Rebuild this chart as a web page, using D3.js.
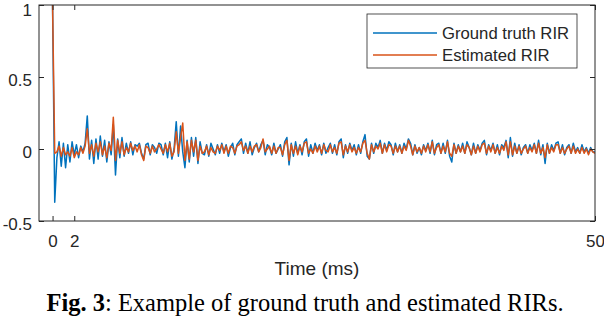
<!DOCTYPE html>
<html>
<head>
<meta charset="utf-8">
<script src="https://cdn.jsdelivr.net/npm/d3@7"></script>
<style>
  body { margin: 0; background: #fff; }
  text { font-family: "Liberation Sans", Arial, sans-serif; fill: #262626; }
  .caption { font-family: "Liberation Serif", "Times New Roman", serif; fill: #000; }
</style>
</head>
<body>
<div id="chart"></div>
<script>
// sample step of the traces (ms)
var stepMs = 0.2;

var xTicks = [0, 2, 50];
var yTicks = [-0.5, 0, 0.5, 1];
var yTickLabels = ["-0.5", "0", "0.5", "1"];
var seriesNames = ["Ground truth RIR", "Estimated RIR"];

// ground truth RIR, every 0.2 ms
var groundTruth = [
  1.0, -0.37, -0.06, 0.05, -0.12, 0.04, -0.13, 0.03, -0.09, 0.05,
  -0.04, 0.03, -0.06, 0.02, -0.02, 0.04, 0.23, -0.07, 0.06, -0.10,
  0.07, -0.07, 0.09, -0.05, 0.06, -0.09, 0.05, -0.04, 0.17, -0.18,
  0.07, -0.06, 0.08, -0.05, 0.04, -0.03, 0.05, -0.04, 0.03, 0.02,
  0.04, -0.03, -0.07, 0.03, 0.04, -0.04, 0.03, 0.01, -0.03, 0.04,
  0.03, -0.04, 0.04, -0.06, 0.05, -0.07, 0.00, 0.19, -0.05, 0.16,
  -0.02, -0.13, 0.06, -0.09, 0.08, -0.05, 0.08, -0.10, 0.05, -0.03,
  -0.04, 0.03, -0.05, 0.04, 0.00, -0.04, 0.03, -0.03, 0.04, -0.02,
  0.03, -0.05, 0.01, 0.04, -0.04, 0.03, 0.05, 0.07, -0.03, 0.04,
  -0.03, 0.05, -0.04, 0.01, 0.04, -0.02, 0.03, 0.06, -0.04, 0.03,
  0.01, -0.04, 0.04, -0.03, 0.00, 0.03, -0.05, 0.05, 0.08, -0.11,
  0.04, -0.05, 0.05, -0.03, 0.03, -0.04, 0.05, 0.07, -0.05, 0.03,
  -0.03, 0.04, -0.01, 0.03, -0.04, 0.04, -0.03, 0.01, 0.04, -0.03,
  0.03, -0.04, 0.05, 0.07, -0.06, 0.03, -0.03, 0.04, -0.01, 0.03,
  -0.04, 0.03, -0.03, 0.05, 0.10, -0.05, -0.07, 0.04, -0.03, 0.04,
  0.01, 0.06, -0.03, 0.04, -0.01, 0.05, 0.03, -0.04, 0.04, -0.02,
  0.03, -0.03, 0.04, 0.00, 0.07, 0.04, -0.04, 0.03, -0.03, 0.01,
  -0.04, 0.03, -0.01, 0.04, -0.03, 0.06, -0.04, 0.03, 0.04, -0.03,
  0.04, -0.03, 0.06, -0.05, -0.09, 0.04, -0.03, 0.03, -0.02, 0.04,
  -0.03, 0.05, 0.01, -0.04, 0.04, -0.03, 0.03, -0.01, 0.04, 0.06,
  -0.04, 0.03, -0.01, 0.04, -0.03, 0.03, -0.04, 0.03, 0.01, 0.06,
  -0.06, 0.08, -0.05, 0.04, -0.03, 0.03, -0.04, 0.01, 0.03, -0.03,
  0.03, -0.01, 0.04, -0.03, 0.06, -0.04, 0.03, -0.10, 0.04, -0.03,
  0.03, -0.01, 0.04, 0.05, -0.03, 0.03, -0.04, 0.01, 0.03, -0.03,
  0.04, -0.02, 0.01, -0.03, 0.03, -0.02, 0.01, -0.03, 0.01, -0.02,
  -0.02
];

// estimated RIR, same sampling
var estimated = [
  1.0, -0.03, -0.02, 0.02, -0.05, 0.01, -0.04, -0.02, -0.05, 0.01,
  -0.06, -0.02, -0.04, 0.01, -0.03, 0.02, 0.14, -0.03, 0.03, -0.05,
  0.04, -0.02, 0.05, -0.04, 0.02, -0.06, 0.04, -0.01, 0.22, -0.08,
  0.06, -0.03, 0.05, -0.04, 0.01, -0.02, 0.04, -0.01, 0.02, -0.02,
  0.03, -0.04, -0.08, 0.02, 0.01, -0.03, 0.02, -0.02, 0.00, 0.03,
  0.00, -0.03, 0.03, -0.02, 0.04, -0.05, -0.02, 0.12, -0.03, 0.08,
  0.18, -0.08, 0.05, -0.07, 0.06, -0.02, 0.06, -0.08, 0.02, -0.03,
  -0.02, 0.02, -0.04, 0.01, -0.02, -0.03, 0.02, -0.01, 0.03, -0.03,
  0.02, -0.03, 0.02, 0.01, -0.03, 0.02, 0.03, 0.05, -0.01, 0.02,
  -0.03, 0.02, -0.02, 0.02, 0.03, -0.02, 0.01, 0.07, -0.02, 0.00,
  0.02, -0.03, 0.02, -0.03, 0.01, 0.01, -0.04, 0.03, 0.06, -0.08,
  0.03, -0.03, 0.02, -0.04, 0.02, -0.02, 0.04, 0.05, -0.03, 0.00,
  -0.03, 0.02, -0.02, 0.02, -0.03, 0.03, -0.01, -0.02, 0.03, -0.02,
  0.01, -0.03, 0.04, 0.05, -0.04, 0.02, -0.02, 0.03, -0.02, 0.01,
  -0.03, 0.01, -0.02, 0.04, 0.06, -0.03, -0.07, 0.03, -0.02, 0.02,
  0.00, 0.04, -0.03, 0.03, -0.02, 0.03, 0.02, -0.03, 0.02, -0.02,
  0.02, -0.03, 0.02, -0.01, 0.06, 0.02, -0.04, 0.02, -0.02, 0.01,
  -0.03, 0.02, -0.02, 0.03, -0.02, 0.05, -0.03, 0.01, 0.03, -0.03,
  0.02, -0.02, 0.05, -0.03, -0.05, 0.03, -0.03, 0.02, -0.02, 0.02,
  -0.03, 0.03, 0.01, -0.04, 0.02, -0.03, 0.02, -0.02, 0.03, 0.04,
  -0.03, 0.02, -0.02, 0.03, -0.03, 0.01, -0.03, 0.02, -0.01, 0.05,
  -0.04, 0.05, -0.04, 0.02, -0.03, 0.02, -0.03, 0.00, 0.02, -0.03,
  0.01, -0.02, 0.03, -0.03, 0.04, -0.03, 0.01, -0.06, 0.03, -0.03,
  0.01, -0.02, 0.03, 0.03, -0.03, 0.01, -0.03, 0.00, 0.02, -0.03,
  0.02, -0.03, 0.00, -0.03, 0.01, -0.03, 0.00, -0.04, 0.00, -0.02,
  -0.03
];

var svgWidth = 604;
var svgHeight = 316;

var margin = {
  top: 5,
  right: 9,
  bottom: 95,
  left: 39
};

var width = svgWidth - margin.left - margin.right;
var height = svgHeight - margin.top - margin.bottom;

var colors = ["#0072BD", "#D95319"];

var svg = d3.select("#chart")
  .append("svg")
  .attr("width", svgWidth)
  .attr("height", svgHeight);

var chartGroup = svg.append("g")
  .attr("transform", `translate(${margin.left}, ${margin.top})`);

var xLinearScale = d3.scaleLinear()
  .domain([-1.25, 50])
  .range([0, width]);

var yLinearScale = d3.scaleLinear()
  .domain([-0.5, 1])
  .range([height, 0]);

// clip the traces to the axes box
chartGroup.append("clipPath")
  .attr("id", "plot-clip")
  .append("rect")
  .attr("width", width)
  .attr("height", height);

var line = d3.line()
  .x((d, i) => xLinearScale(i * stepMs))
  .y(d => yLinearScale(d));

var traces = chartGroup.append("g")
  .attr("clip-path", "url(#plot-clip)");

[groundTruth, estimated].forEach(function(series, k) {
  traces.append("path")
    .datum(series)
    .attr("fill", "none")
    .attr("stroke", colors[k])
    .attr("stroke-width", 1.5)
    .attr("stroke-linejoin", "round")
    .attr("d", line);
});

// axes, ticks pointing inward like matlab
var bottomAxis = d3.axisBottom(xLinearScale)
  .tickValues(xTicks)
  .tickSizeInner(-5)
  .tickSizeOuter(0)
  .tickPadding(14);

var topAxis = d3.axisTop(xLinearScale)
  .tickValues(xTicks)
  .tickSizeInner(-5)
  .tickSizeOuter(0)
  .tickFormat("");

var leftAxis = d3.axisLeft(yLinearScale)
  .tickValues(yTicks)
  .tickSizeInner(-5)
  .tickSizeOuter(0)
  .tickPadding(7)
  .tickFormat((d, i) => yTickLabels[i]);

var rightAxis = d3.axisRight(yLinearScale)
  .tickValues(yTicks)
  .tickSizeInner(-5)
  .tickSizeOuter(0)
  .tickFormat("");

chartGroup.append("g")
  .attr("transform", `translate(0, ${height})`)
  .call(bottomAxis);
chartGroup.append("g")
  .call(topAxis);
var yAxis = chartGroup.append("g")
  .call(leftAxis);
chartGroup.append("g")
  .attr("transform", `translate(${width}, 0)`)
  .call(rightAxis);

chartGroup.selectAll(".domain").remove();
chartGroup.selectAll(".tick line").attr("stroke", "#262626");
chartGroup.selectAll(".tick text")
  .attr("font-size", "17px")
  .attr("font-family", null)
  .attr("fill", "#262626");
// matlab sits the y labels a bit lower; keep the top one inside the page
yAxis.selectAll(".tick text")
  .attr("dy", d => d === 1 ? "0.62em" : "0.47em");

chartGroup.append("rect")
  .attr("width", width)
  .attr("height", height)
  .attr("fill", "none")
  .attr("stroke", "#262626")
  .attr("stroke-width", 1);

// x label
chartGroup.append("text")
  .attr("x", width / 2)
  .attr("y", height + 54)
  .attr("text-anchor", "middle")
  .attr("font-size", "19px")
  .text("Time (ms)");

// legend
var legend = chartGroup.append("g")
  .attr("transform", `translate(${367 - margin.left}, ${14 - margin.top})`);

legend.append("rect")
  .attr("width", 210)
  .attr("height", 54)
  .attr("fill", "#fff")
  .attr("stroke", "#262626")
  .attr("stroke-width", 0.8);

seriesNames.forEach(function(name, k) {
  var row = legend.append("g")
    .attr("transform", `translate(0, ${19 + k * 22})`);
  row.append("line")
    .attr("x1", 6)
    .attr("x2", 70)
    .attr("stroke", colors[k])
    .attr("stroke-width", 1.5);
  row.append("text")
    .attr("x", 75)
    .attr("dy", "0.35em")
    .attr("font-size", "16.7px")
    .text(name);
});

// caption under the figure
var caption = svg.append("text")
  .attr("class", "caption")
  .attr("x", 305)
  .attr("y", 311)
  .attr("text-anchor", "middle")
  .attr("font-size", "24.5px");

caption.append("tspan")
  .attr("font-weight", "bold")
  .text("Fig. 3");
caption.append("tspan")
  .text(": Example of ground truth and estimated RIRs.");
</script>
</body>
</html>
